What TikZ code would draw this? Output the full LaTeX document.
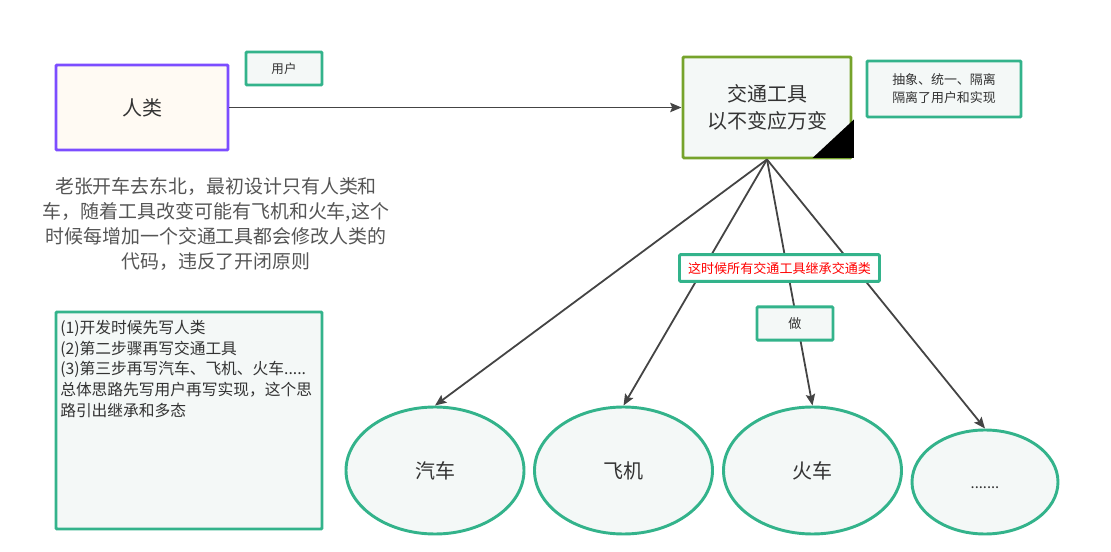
\documentclass[tikz,border=0pt]{standalone}
\usepackage{fontspec}
\setmainfont{Noto Sans CJK SC}
\usetikzlibrary{arrows.meta,shapes.geometric}
\definecolor{gline}{HTML}{33B38B}
\definecolor{gfill}{HTML}{F4F8F7}
\definecolor{purp}{HTML}{7C4DFF}
\definecolor{ivory}{HTML}{FFFAF3}
\definecolor{olive}{HTML}{76A32B}
\definecolor{txt}{HTML}{333333}
\definecolor{ptxt}{HTML}{555555}
\definecolor{arrc}{HTML}{444444}
\tikzset{
  gbox/.style={draw=gline, fill=gfill, line width=2.2pt, rounded corners=0.8pt, inner sep=0pt, text=txt},
  gell/.style={ellipse, draw=gline, fill=gfill, line width=2.2pt, inner sep=0pt, text=txt, font=\fontsize{15}{18}\selectfont},
  arr/.style={draw=arrc, line width=1.35pt, -{Stealth[length=8.5pt,width=7pt,inset=1.5pt]}},
}
\begin{document}
\begin{tikzpicture}[x=0.75pt,y=-0.75pt]
\useasboundingbox (0,0) rectangle (1111,552);
% main boxes
\node[draw=purp, fill=ivory, line width=2.2pt, rounded corners=0.8pt, inner sep=0pt, text=txt,
      minimum width=129pt, minimum height=63.75pt, font=\fontsize{15}{18}\selectfont] (renlei) at (142,107.5) {人类};
\node[gbox, minimum width=57pt, minimum height=24.75pt, font=\fontsize{9.4}{11}\selectfont] (yonghu) at (284,68.5) {用户};
\node[draw=olive, fill=gfill, line width=2.2pt, rounded corners=0.8pt, inner sep=0pt, text=txt, align=center,
      minimum width=126pt, minimum height=75.75pt, font=\fontsize{15}{20.25}\selectfont] (jt) at (767,107.5) {交通工具\\以不变应万变};
\fill[black] ([xshift=-30pt,yshift=1.1pt]jt.south east) -- ([xshift=1.1pt,yshift=1.1pt]jt.south east) -- ([xshift=1.1pt,yshift=30pt]jt.south east) -- cycle;
\node[gbox, minimum width=115.5pt, minimum height=42pt, align=center, font=\fontsize{9.7}{13.5}\selectfont] (chouxiang) at (944,89) {抽象、统一、隔离\\隔离了用户和实现};
% paragraph
\node[text=ptxt, align=center, inner sep=0pt, font=\fontsize{14.2}{18.75}\selectfont] (para) at (216,224.5)
  {老张开车去东北，最初设计只有人类和\\车，随着工具改变可能有飞机和火车,这个\\时候每增加一个交通工具都会修改人类的\\代码，违反了开闭原则};
% left box
\node[gbox, minimum width=199.5pt, minimum height=162.75pt] (steps) at (189,420.5) {};
\node[anchor=north west, inner sep=0pt, align=left, text=txt, font=\fontsize{11.8}{15.5}\selectfont] (stepstxt) at (60,320)
  {(1)开发时候先写人类\\(2)第二步骤再写交通工具\\(3)第三步再写汽车、飞机、火车.....\\总体思路先写用户再写实现，这个思\\路引出继承和多态};
% ellipses
\node[gell, minimum width=133.5pt, minimum height=95.25pt] (qiche) at (435,470.5) {汽车};
\node[gell, minimum width=133.5pt, minimum height=95.25pt] (feiji) at (623.5,470.5) {飞机};
\node[gell, minimum width=133.5pt, minimum height=95.25pt] (huoche) at (812.5,470.5) {火车};
\node[gell, minimum width=109.5pt, minimum height=78pt, font=\fontsize{11}{13}\selectfont] (more) at (985,482) {\smash{\raisebox{-5pt}{.......}}};
% connectors
\draw[arr] (renlei.east) -- (jt.west);
\draw[arr] (jt.south) -- (qiche.north);
\draw[arr] (jt.south) -- (feiji.north);
\draw[arr] (jt.south) -- (huoche.north);
\draw[arr] (jt.south) -- (more.north);
% labels over connectors
\node[draw=gline, fill=white, line width=2.2pt, rounded corners=0.8pt, inner sep=0pt, text=red,
      minimum width=150pt, minimum height=20pt, font=\fontsize{9.8}{11}\selectfont] (jicheng) at (779.5,268) {这时候所有交通工具继承交通类};
\node[gbox, minimum width=57pt, minimum height=25pt, font=\fontsize{9.8}{11}\selectfont] (zuo) at (795,323.5) {做};
\end{tikzpicture}
\end{document}
